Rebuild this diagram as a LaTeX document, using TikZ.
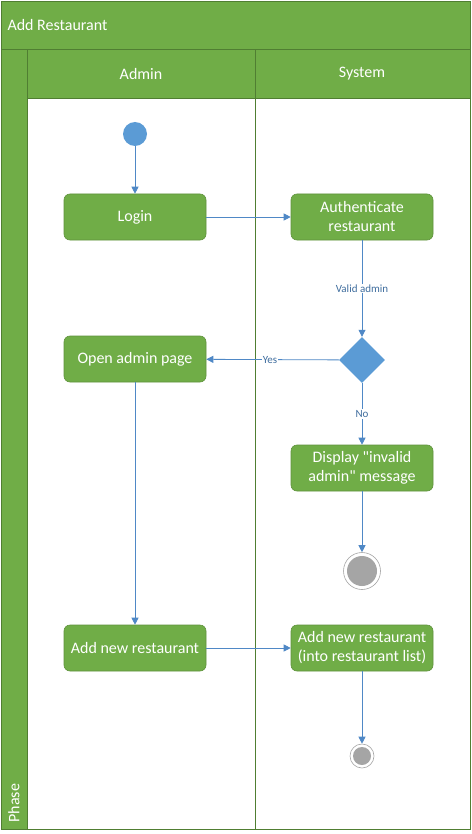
\documentclass[tikz,border=0pt]{standalone}
\usepackage{fontspec}
\setmainfont[Ligatures=TeXOff]{Carlito}
\usetikzlibrary{shapes.geometric,arrows.meta}
\definecolor{lgreen}{HTML}{70AD47}
\definecolor{dgreen}{HTML}{507E32}
\definecolor{lblue}{HTML}{5B9BD5}
\definecolor{ablue}{HTML}{4F88C6}
\definecolor{egray}{HTML}{A5A5A5}
\tikzset{
  act/.style={rounded corners=6pt, fill=lgreen, draw=lgreen!85!black, line width=0.6pt,
    minimum width=142pt, minimum height=46pt, text=white, align=center,
    font=\fontsize{16}{19}\selectfont},
  conn/.style={draw=ablue, line width=0.8pt, -{Triangle[width=7pt,length=7pt]}},
  lbl/.style={fill=white, inner sep=1pt, text=ablue!80!black, font=\fontsize{11}{13}\selectfont},
  hdr/.style={fill=lgreen, draw=dgreen, line width=0.8pt},
  htxt/.style={text=white, font=\fontsize{16}{19}\selectfont},
}
\begin{document}
\begin{tikzpicture}[x=1pt,y=-1pt]
\useasboundingbox (0,0) rectangle (471,834);
\fill[white] (0,0) rectangle (471,834);
% frame
\draw[hdr] (1,1) rectangle (470,49);
\node[anchor=west, htxt] (title) at (4,25) {Add Restaurant};
\draw[hdr] (1,49) rectangle (27,829);
\node[rotate=90, anchor=west, htxt] (phase) at (14,826) {Phase};
\draw[hdr] (27,49) rectangle (255,98);
\draw[hdr] (255,49) rectangle (470,98);
\node[htxt] (hadmin) at (141,74) {Admin};
\node[htxt] (hsys) at (362,74) {System};
\draw[dgreen, line width=0.8pt] (27,98) rectangle (255,829);
\draw[dgreen, line width=0.8pt] (255,98) rectangle (470,829);
% nodes
\node[circle, fill=lblue, minimum size=24pt, inner sep=0pt] (start) at (135,134) {};
\node[act] (login) at (135,217) {Login};
\node[act] (auth) at (362,217) {Authenticate\\restaurant};
\node[diamond, fill=lblue, minimum size=46pt, inner sep=0pt] (dec) at (362,360) {};
\node[act] (open) at (135,359) {Open admin page};
\node[act] (disp) at (362,468) {Display "invalid\\admin" message};
\node[circle, draw=egray, line width=0.6pt, fill=white, minimum size=37pt, inner sep=0pt] (end1) at (362,571) {};
\node[circle, fill=egray, minimum size=30pt, inner sep=0pt] (end1in) at (362,571) {};
\node[act] (addA) at (135,648) {Add new restaurant};
\node[act] (addS) at (362,648) {Add new restaurant\\(into restaurant list)};
\node[circle, draw=egray, line width=0.6pt, fill=white, minimum size=24pt, inner sep=0pt] (end2) at (362,756) {};
\node[circle, fill=egray, minimum size=18pt, inner sep=0pt] (end2in) at (362,756) {};
% connectors
\draw[conn] (start) -- (login);
\draw[conn] (login) -- (auth);
\draw[conn] (auth) -- node[lbl, pos=0.5] {Valid admin} (dec);
\draw[conn] (dec) -- node[lbl, pos=0.52] {Yes} (open);
\draw[conn] (dec) -- node[lbl, pos=0.5] {No} (disp);
\draw[conn] (disp) -- (end1);
\draw[conn] (open) -- (addA);
\draw[conn] (addA) -- (addS);
\draw[conn] (addS) -- (end2);
\end{tikzpicture}
\end{document}
